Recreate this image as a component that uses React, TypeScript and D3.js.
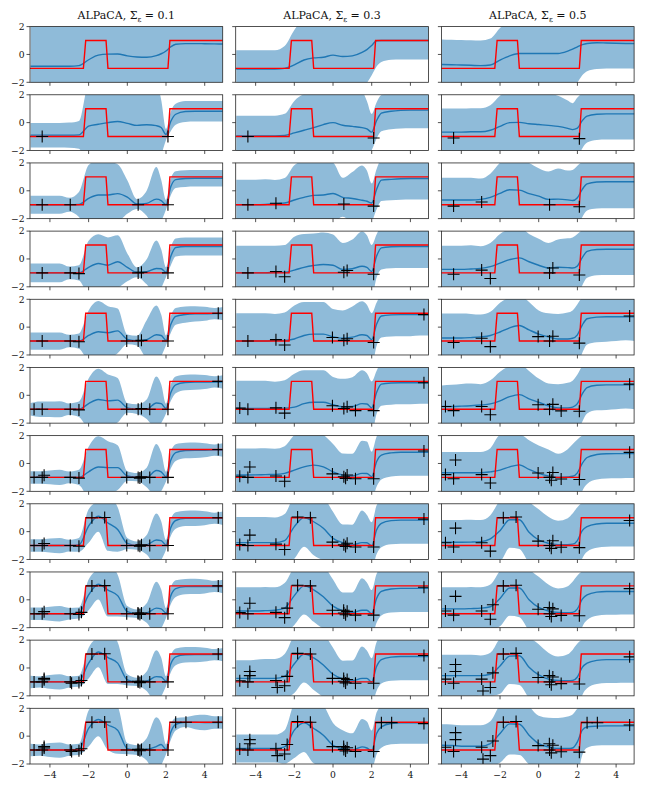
import React, { useRef, useEffect } from 'react';
import * as d3 from 'd3';

const gridX = [-5, -4.5, -4, -3.5, -3, -2.5, -2, -1.5, -1, -0.5, 0, 0.5, 1, 1.5, 1.75, 2, 2.25, 2.5, 3, 3.5, 4, 4.5, 5];

// true step function
const stepX = [-5.05, -2.27, -2.15, -1.1, -1.0, 2.1, 2.2, 5];
const stepY = [-1, -1, 1, 1, -1, -1, 1, 1];

// context points, revealed two per row
const obsX = [-4.4, 2.1, -2.95, 0.56, -2.5, 0.73, -0.03, 4.7, -4.82, 1.16, -4.3, 0.65, -1.83, -1.17, -2.37, 0.55, -4.3, -2.88, 2.5, 3.03];
const obsY01 = [-1.0, -1.0, -1.0, -1.0, -1.05, -0.95, -1.0, 1.0, -1.0, -1.0, -0.85, -1.05, 1.0, 1.02, -0.9, -0.95, -0.75, -1.1, 1.0, 1.0];
const obsY03 = [-1.0, -1.1, -0.9, -0.95, -1.28, -0.83, -0.75, 0.9, -0.92, -1.1, -0.25, -1.07, 1.05, 1.0, -0.6, -0.75, -0.55, -1.4, 0.97, 0.97];
const obsY05 = [-1.1, -1.15, -0.8, -1.0, -1.4, -0.65, -0.68, 0.8, -0.8, -1.12, 0.25, -1.2, 1.0, 1.05, -0.35, -0.55, -0.25, -1.65, 0.96, 0.96];

// Sigma = 0.1
const mean01 = [
  [-0.85, -0.85, -0.85, -0.85, -0.85, -0.8, -0.38, -0.05, 0.02, 0.03, -0.1, -0.18, -0.2, -0.08, 0.05, 0.25, 0.55, 0.73, 0.78, 0.78, 0.77, 0.76, 0.75],
  [-0.9, -0.9, -0.9, -0.9, -0.9, -0.88, -0.25, -0.12, 0.0, 0.08, -0.05, -0.2, -0.15, -0.22, -0.35, -0.85, 0.1, 0.6, 0.8, 0.82, 0.82, 0.82, 0.82],
  [-1, -1, -1, -1, -1, -0.98, -0.55, -0.3, -0.3, -0.2, -0.45, -0.95, -0.9, -0.6, -0.7, -1, 0.3, 0.8, 0.88, 0.9, 0.9, 0.9, 0.9],
  [-1, -1, -1, -1, -1, -1, -0.6, -0.33, -0.45, -0.2, -0.6, -0.96, -0.92, -0.68, -0.7, -0.95, 0.2, 0.82, 0.9, 0.9, 0.9, 0.9, 0.9],
  [-1, -1, -1, -1, -1, -1, -0.6, -0.33, -0.4, -0.27, -0.88, -0.97, -0.9, -0.55, -0.6, -0.95, 0.2, 0.77, 0.9, 0.95, 0.96, 0.97, 0.97],
  [-1, -1, -1, -1, -1, -1, -0.6, -0.3, -0.4, -0.35, -0.9, -1, -1, -0.55, -0.6, -0.95, 0.2, 0.75, 0.92, 0.95, 0.95, 0.96, 0.96],
  [-1, -1, -1, -1, -1, -1, -0.6, -0.25, -0.3, -0.3, -0.9, -0.98, -1, -0.5, -0.6, -0.95, 0.25, 0.78, 0.93, 0.95, 0.95, 0.96, 0.96],
  [-1, -1, -1, -1, -1, -0.95, 0.4, 1.1, 0.62, 0.15, -0.85, -1, -0.95, -0.6, -0.65, -0.95, 0.3, 0.8, 0.95, 0.96, 0.96, 0.96, 0.96],
  [-1, -1, -1, -1, -1, -0.95, 0.35, 1.12, 0.7, 0.3, -0.85, -1, -0.95, -0.6, -0.65, -0.95, 0.3, 0.8, 0.95, 0.96, 0.96, 0.96, 0.96],
  [-1, -1, -1, -1, -1, -0.95, 0.35, 1.15, 0.75, 0.35, -0.85, -1, -0.95, -0.62, -0.65, -0.95, 0.3, 0.8, 0.95, 0.96, 0.96, 0.96, 0.96],
  [-1, -1, -1, -1, -1, -0.95, 0.55, 1.2, 0.8, 0.43, -0.9, -1, -0.95, -0.75, -0.6, -0.95, 0.3, 0.85, 1, 1, 0.98, 0.98, 0.98],
];
const spread01 = [
  [3, 3, 3, 3, 3, 3, 3, 3, 3, 3, 3, 3, 3, 3, 3, 3, 3, 3, 3, 3, 3, 3, 3],
  [0.88, 0.88, 0.88, 0.88, 0.9, 1.0, 3, 3, 3, 3, 3, 3, 3, 3, 2.0, 0.4, 0.7, 0.75, 0.75, 0.74, 0.74, 0.74, 0.74],
  [0.65, 0.65, 0.65, 0.65, 0.5, 0.9, 2.4, 2.5, 2.4, 2.1, 1.2, 0.35, 0.9, 2.3, 1.5, 0.35, 0.6, 0.6, 0.6, 0.6, 0.6, 0.6, 0.6],
  [0.68, 0.68, 0.68, 0.68, 0.45, 0.55, 1.9, 2.1, 2.0, 1.9, 1.0, 0.35, 0.9, 2.0, 1.4, 0.35, 0.65, 0.65, 0.65, 0.65, 0.65, 0.65, 0.65],
  [0.62, 0.62, 0.62, 0.62, 0.45, 0.55, 1.8, 2.2, 1.9, 1.6, 0.35, 0.35, 1.4, 2.1, 1.5, 0.35, 0.6, 0.6, 0.58, 0.55, 0.5, 0.4, 0.5],
  [0.45, 0.55, 0.55, 0.58, 0.42, 0.55, 1.8, 2.2, 1.9, 1.6, 0.35, 0.35, 0.7, 1.9, 1.4, 0.35, 0.6, 0.6, 0.55, 0.55, 0.5, 0.4, 0.5],
  [0.45, 0.45, 0.5, 0.55, 0.42, 0.55, 1.8, 2.2, 1.9, 1.6, 0.35, 0.3, 0.7, 1.9, 1.4, 0.35, 0.6, 0.6, 0.55, 0.55, 0.5, 0.4, 0.5],
  [0.45, 0.45, 0.5, 0.55, 0.42, 0.5, 1.2, 1.1, 2.0, 1.6, 0.4, 0.3, 0.7, 1.9, 1.4, 0.35, 0.6, 0.6, 0.55, 0.55, 0.5, 0.4, 0.5],
  [0.45, 0.45, 0.5, 0.55, 0.42, 0.4, 1.1, 1.1, 1.9, 1.5, 0.4, 0.3, 0.7, 1.9, 1.4, 0.35, 0.6, 0.6, 0.55, 0.55, 0.5, 0.4, 0.5],
  [0.45, 0.4, 0.5, 0.55, 0.4, 0.4, 1.1, 1.1, 1.9, 1.5, 0.4, 0.3, 0.7, 1.9, 1.4, 0.35, 0.6, 0.6, 0.55, 0.55, 0.5, 0.4, 0.5],
  [0.45, 0.4, 0.5, 0.55, 0.4, 0.4, 1.3, 1.2, 1.8, 1.7, 0.4, 0.35, 0.8, 2.1, 1.5, 0.35, 0.55, 0.45, 0.35, 0.5, 0.55, 0.45, 0.45],
];

// Sigma = 0.3
const mean03 = [
  [-1.05, -1.05, -1.05, -1.05, -1.05, -1.0, -0.75, -0.4, -0.25, -0.2, -0.05, -0.15, -0.1, 0.15, 0.35, 0.65, 0.98, 1.0, 1.0, 1.0, 1.0, 1.0, 1.0],
  [-0.96, -0.96, -0.96, -0.95, -0.95, -0.92, -0.74, -0.55, -0.36, -0.14, 0.0, -0.19, -0.27, -0.36, -0.45, -0.68, 0.14, 0.68, 0.82, 0.88, 0.9, 0.9, 0.9],
  [-1, -1, -1, -0.98, -0.92, -0.88, -0.66, -0.47, -0.33, -0.3, -0.19, -0.47, -0.55, -0.68, -0.75, -0.88, 0.1, 0.77, 0.82, 0.86, 0.88, 0.88, 0.88],
  [-1, -1, -1, -1, -0.95, -0.95, -0.8, -0.6, -0.47, -0.4, -0.45, -0.75, -0.7, -0.52, -0.6, -0.9, 0.2, 0.8, 0.88, 0.9, 0.9, 0.9, 0.9],
  [-1, -1, -1, -1, -0.95, -0.95, -0.85, -0.6, -0.5, -0.5, -0.7, -0.8, -0.72, -0.55, -0.6, -0.9, 0.2, 0.8, 0.88, 0.9, 0.9, 0.9, 0.9],
  [-0.95, -0.95, -0.95, -0.95, -0.92, -0.92, -0.85, -0.6, -0.5, -0.5, -0.68, -0.82, -0.8, -0.6, -0.62, -0.9, 0.2, 0.8, 0.88, 0.9, 0.9, 0.9, 0.9],
  [-0.83, -0.83, -0.82, -0.8, -0.79, -0.71, -0.48, -0.24, -0.12, -0.24, -0.6, -0.83, -0.9, -0.71, -0.72, -0.95, 0.12, 0.6, 0.76, 0.81, 0.81, 0.81, 0.81],
  [-0.79, -0.79, -0.79, -0.79, -0.79, -0.64, 0.36, 1.02, 0.71, 0.24, -0.48, -0.79, -0.95, -0.79, -0.8, -1.02, 0.12, 0.6, 0.79, 0.83, 0.83, 0.83, 0.83],
  [-0.8, -0.8, -0.8, -0.78, -0.75, -0.6, 0.3, 1.0, 0.72, 0.22, -0.45, -0.78, -0.92, -0.75, -0.75, -1.0, 0.1, 0.6, 0.78, 0.82, 0.82, 0.82, 0.82],
  [-0.75, -0.75, -0.75, -0.75, -0.75, -0.6, 0.3, 1.0, 0.72, 0.22, -0.45, -0.78, -0.92, -0.75, -0.75, -1.0, 0.1, 0.6, 0.78, 0.82, 0.82, 0.82, 0.82],
  [-0.89, -0.89, -0.89, -0.89, -0.89, -0.77, 0.43, 0.96, 0.55, 0.07, -0.65, -0.89, -1.0, -0.77, -0.85, -1.05, 0.19, 0.67, 0.91, 0.96, 0.96, 0.96, 0.96],
];
const spread03 = [
  [1.35, 1.35, 1.35, 1.35, 1.35, 1.6, 2.5, 3, 3, 3, 3, 3, 3, 2.6, 2.4, 2.15, 1.85, 1.55, 1.38, 1.36, 1.36, 1.36, 1.36],
  [1.45, 1.45, 1.45, 1.45, 1.45, 1.55, 2.3, 2.6, 2.6, 2.6, 2.6, 2.6, 2.6, 2.6, 2.0, 1.3, 1.3, 1.3, 1.3, 1.3, 1.3, 1.3, 1.3],
  [1.8, 1.8, 1.8, 1.8, 1.7, 1.8, 2.5, 2.6, 2.5, 2.4, 2.2, 1.4, 1.9, 2.5, 2.2, 1.4, 1.45, 1.5, 1.5, 1.5, 1.5, 1.5, 1.5],
  [1.95, 1.95, 1.95, 1.95, 1.9, 1.95, 2.4, 2.4, 2.3, 2.3, 2.2, 1.9, 2.1, 2.5, 2.3, 1.9, 1.55, 1.55, 1.55, 1.55, 1.55, 1.55, 1.55],
  [2.0, 2.0, 2.0, 2.0, 1.9, 2.0, 2.4, 2.4, 2.3, 2.3, 2.0, 2.0, 2.2, 2.4, 2.2, 1.9, 1.55, 1.55, 1.55, 1.55, 1.55, 1.5, 1.5],
  [2.0, 2.0, 2.0, 2.0, 1.9, 2.0, 2.4, 2.4, 2.3, 2.3, 2.0, 2.0, 2.1, 2.4, 2.2, 1.9, 1.55, 1.55, 1.55, 1.55, 1.55, 1.5, 1.5],
  [1.9, 1.9, 1.9, 1.9, 1.85, 1.95, 2.5, 2.5, 2.5, 2.3, 2.0, 1.55, 1.6, 2.35, 2.3, 1.8, 1.8, 1.75, 1.7, 1.7, 1.7, 1.7, 1.7],
  [1.85, 1.85, 1.85, 1.85, 1.8, 1.9, 2.3, 2.1, 2.4, 2.3, 1.9, 1.3, 1.45, 2.3, 2.0, 1.7, 1.75, 1.72, 1.7, 1.7, 1.7, 1.7, 1.7],
  [1.7, 1.7, 1.7, 1.7, 1.65, 1.8, 2.1, 2.05, 2.3, 2.3, 1.9, 1.3, 1.45, 2.3, 2.0, 1.7, 1.75, 1.72, 1.7, 1.7, 1.7, 1.7, 1.7],
  [1.3, 1.3, 1.35, 1.4, 1.4, 1.6, 2.1, 2.05, 2.3, 2.3, 1.9, 1.3, 1.45, 2.3, 2.0, 1.7, 1.75, 1.72, 1.7, 1.7, 1.7, 1.7, 1.7],
  [1.0, 1.0, 1.0, 1.0, 1.0, 1.2, 2.0, 2.1, 2.5, 2.2, 1.6, 1.32, 1.2, 2.0, 1.9, 1.45, 1.5, 1.5, 1.5, 1.5, 1.5, 1.5, 1.5],
];

// Sigma = 0.5
const mean05 = [
  [-0.72, -0.74, -0.76, -0.78, -0.8, -0.76, -0.4, -0.1, 0.07, 0.07, 0.07, 0.07, 0.07, 0.24, 0.38, 0.55, 0.7, 0.79, 0.84, 0.82, 0.8, 0.79, 0.78],
  [-0.68, -0.68, -0.68, -0.66, -0.66, -0.55, -0.27, 0.0, 0.02, -0.08, -0.14, -0.2, -0.27, -0.41, -0.5, -0.4, 0.14, 0.47, 0.6, 0.63, 0.63, 0.63, 0.63],
  [-0.66, -0.66, -0.66, -0.66, -0.62, -0.47, -0.19, 0.08, 0.05, -0.2, -0.38, -0.62, -0.6, -0.65, -0.7, -0.5, 0.1, 0.49, 0.63, 0.65, 0.65, 0.65, 0.65],
  [-0.75, -0.75, -0.75, -0.72, -0.68, -0.55, -0.3, -0.05, 0.08, -0.2, -0.45, -0.65, -0.6, -0.62, -0.65, -0.5, 0.1, 0.55, 0.68, 0.7, 0.7, 0.7, 0.7],
  [-0.78, -0.78, -0.78, -0.75, -0.7, -0.6, -0.35, -0.05, 0.12, -0.2, -0.5, -0.7, -0.85, -0.85, -0.8, -0.55, 0.15, 0.6, 0.72, 0.75, 0.75, 0.75, 0.75],
  [-0.8, -0.8, -0.78, -0.75, -0.7, -0.62, -0.4, -0.1, 0.05, -0.25, -0.5, -0.75, -0.9, -0.9, -0.85, -0.6, 0.1, 0.55, 0.72, 0.75, 0.75, 0.75, 0.75],
  [-0.67, -0.67, -0.67, -0.67, -0.67, -0.6, -0.48, -0.24, -0.1, -0.43, -0.71, -0.9, -1.0, -0.97, -0.92, -0.67, 0.0, 0.43, 0.64, 0.7, 0.71, 0.71, 0.71],
  [-0.76, -0.76, -0.76, -0.75, -0.72, -0.52, 0.07, 0.85, 0.85, -0.05, -0.6, -0.83, -0.93, -0.93, -0.9, -0.64, 0.07, 0.36, 0.55, 0.6, 0.6, 0.6, 0.6],
  [-0.65, -0.65, -0.65, -0.63, -0.6, -0.5, 0.1, 0.85, 0.85, 0.0, -0.55, -0.8, -0.9, -0.92, -0.9, -0.65, 0.05, 0.35, 0.55, 0.6, 0.6, 0.6, 0.6],
  [-0.55, -0.55, -0.55, -0.55, -0.55, -0.45, 0.15, 0.85, 0.88, 0.05, -0.5, -0.8, -0.9, -0.92, -0.9, -0.65, 0.05, 0.35, 0.55, 0.6, 0.6, 0.6, 0.6],
  [-0.65, -0.67, -0.72, -0.72, -0.72, -0.53, 0.19, 0.88, 0.85, 0.07, -0.53, -0.77, -0.89, -0.89, -0.85, -0.41, 0.43, 0.67, 0.72, 0.74, 0.74, 0.74, 0.74],
];
const spread05 = [
  [1.8, 1.8, 1.8, 1.8, 1.8, 1.9, 2.3, 2.6, 2.6, 2.6, 2.6, 2.6, 2.6, 2.6, 2.6, 2.55, 2.2, 2.0, 1.88, 1.83, 1.8, 1.8, 1.8],
  [1.7, 1.7, 1.7, 1.7, 1.7, 1.8, 2.2, 2.3, 2.3, 2.3, 2.3, 2.3, 2.2, 2.0, 1.9, 2.2, 2.0, 1.9, 1.85, 1.85, 1.85, 1.85, 1.85],
  [1.6, 1.6, 1.6, 1.6, 1.5, 1.7, 2.2, 2.3, 2.3, 2.2, 2.0, 2.0, 2.2, 2.1, 2.2, 2.3, 2.0, 1.9, 1.9, 1.9, 1.9, 1.9, 1.9],
  [1.7, 1.7, 1.7, 1.7, 1.6, 1.7, 2.1, 2.2, 2.2, 2.0, 1.9, 1.8, 2.0, 2.1, 2.2, 2.3, 2.0, 1.9, 1.85, 1.85, 1.85, 1.85, 1.85],
  [1.75, 1.75, 1.75, 1.7, 1.6, 1.7, 2.1, 2.2, 2.2, 2.0, 1.7, 1.7, 1.8, 1.9, 2.0, 2.2, 2.0, 1.85, 1.8, 1.8, 1.75, 1.7, 1.75],
  [1.5, 1.55, 1.6, 1.6, 1.5, 1.7, 2.1, 2.2, 2.2, 2.0, 1.7, 1.6, 1.7, 1.8, 1.9, 2.1, 2.0, 1.85, 1.8, 1.8, 1.75, 1.7, 1.75],
  [1.5, 1.5, 1.5, 1.5, 1.5, 1.7, 2.5, 2.3, 2.2, 2.1, 2.0, 1.9, 1.7, 2.0, 2.3, 2.4, 2.0, 1.9, 1.8, 1.78, 1.78, 1.75, 1.75],
  [1.6, 1.6, 1.6, 1.6, 1.55, 1.7, 2.2, 2.0, 2.1, 2.2, 2.2, 1.9, 1.72, 1.9, 2.2, 2.4, 2.0, 1.8, 1.7, 1.68, 1.67, 1.66, 1.66],
  [1.55, 1.55, 1.55, 1.55, 1.5, 1.6, 2.0, 2.0, 2.1, 2.2, 2.2, 1.9, 1.72, 1.9, 2.2, 2.4, 2.0, 1.8, 1.7, 1.68, 1.67, 1.66, 1.66],
  [1.5, 1.5, 1.5, 1.5, 1.45, 1.55, 2.0, 2.0, 2.1, 2.2, 2.2, 1.9, 1.72, 1.9, 2.2, 2.4, 2.0, 1.8, 1.7, 1.68, 1.67, 1.66, 1.66],
  [1.5, 1.5, 1.5, 1.5, 1.5, 1.6, 2.1, 2.2, 2.2, 2.1, 2.0, 2.1, 2.2, 2.3, 2.4, 2.4, 1.8, 1.5, 1.4, 1.4, 1.4, 1.4, 1.4],
];

const sigmaLabels = ['0.1', '0.3', '0.5'];
const xTicks = [-4, -2, 0, 2, 4];
const yTicks = [-2, 0, 2];

const columns = [
  { mean: mean01, spread: spread01, obsY: obsY01 },
  { mean: mean03, spread: spread03, obsY: obsY03 },
  { mean: mean05, spread: spread05, obsY: obsY05 },
];

// layout
const colLeft = [30, 235.7, 441.4];
const panelW = 192.7;
const panelH = 55.7;
const rowTop0 = 26.6;
const rowStep = 68.17;
const serif = '"DejaVu Serif", "Liberation Serif", serif';

const fmt = (v: number) => (v < 0 ? '\u2212' + Math.abs(v) : String(v));

const App: React.FC = () => {
  const svgRef = useRef<SVGSVGElement | null>(null);

  useEffect(() => {
    const svg = d3.select(svgRef.current);
    svg.selectAll('*').remove();

    const x = d3.scaleLinear().domain([-5.03, 4.93]).range([0, panelW]);
    const y = d3.scaleLinear().domain([-2, 2]).range([panelH, 0]);

    type P = { x: number; m: number; s: number };
    const band = d3.area<P>()
      .x(d => x(d.x))
      .y0(d => y(d.m - d.s))
      .y1(d => y(d.m + d.s))
      .curve(d3.curveMonotoneX);
    const meanLine = d3.line<P>()
      .x(d => x(d.x))
      .y(d => y(d.m))
      .curve(d3.curveMonotoneX);
    const stepLine = d3.line<number>()
      .x(d => x(d))
      .y((_, i) => y(stepY[i]));

    columns.forEach((col, c) => {
      // column title
      const title = svg.append('text')
        .attr('x', colLeft[c] + panelW / 2)
        .attr('y', 19.3)
        .attr('text-anchor', 'middle')
        .attr('font-family', serif)
        .attr('font-size', 11)
        .attr('fill', '#111');
      title.append('tspan').text('ALPaCA, \u03A3');
      title.append('tspan').attr('font-size', 7.5).attr('dy', 2.5).text('\u03B5');
      title.append('tspan').attr('dy', -2.5).text(' = ' + sigmaLabels[c]);

      for (let r = 0; r < col.mean.length; r++) {
        const g = svg.append('g')
          .attr('transform', `translate(${colLeft[c]},${rowTop0 + r * rowStep})`);

        const clipId = `clip-${c}-${r}`;
        g.append('clipPath').attr('id', clipId)
          .append('rect').attr('width', panelW).attr('height', panelH);

        const plot = g.append('g').attr('clip-path', `url(#${clipId})`);
        const pts: P[] = gridX.map((gx, i) => ({ x: gx, m: col.mean[r][i], s: col.spread[r][i] }));

        plot.append('path').datum(pts)
          .attr('d', band)
          .attr('fill', '#8fbbd9');

        plot.append('path').datum(pts)
          .attr('d', meanLine)
          .attr('fill', 'none')
          .attr('stroke', '#1f77b4')
          .attr('stroke-width', 1.4);

        plot.append('path').datum(stepX)
          .attr('d', stepLine)
          .attr('fill', 'none')
          .attr('stroke', '#ff0000')
          .attr('stroke-width', 1.4);

        // context points as "+" markers
        const n = 2 * r;
        plot.selectAll('.obs')
          .data(obsX.slice(0, n).map((ox, i) => [ox, col.obsY[i]]))
          .enter()
          .append('path')
          .attr('class', 'obs')
          .attr('d', d => {
            const px = x(d[0]), py = y(d[1]);
            return `M${px - 6},${py}H${px + 6}M${px},${py - 6}V${py + 6}`;
          })
          .attr('stroke', '#000')
          .attr('stroke-width', 1.1)
          .attr('fill', 'none');

        // frame
        g.append('rect')
          .attr('width', panelW).attr('height', panelH)
          .attr('fill', 'none').attr('stroke', '#262626').attr('stroke-width', 0.8);

        // x ticks
        g.selectAll('.xt').data(xTicks).enter().append('line')
          .attr('x1', d => x(d)).attr('x2', d => x(d))
          .attr('y1', panelH).attr('y2', panelH + 3.5)
          .attr('stroke', '#262626').attr('stroke-width', 0.8);

        // y ticks
        g.selectAll('.yt').data(yTicks).enter().append('line')
          .attr('x1', -3.5).attr('x2', 0)
          .attr('y1', d => y(d)).attr('y2', d => y(d))
          .attr('stroke', '#262626').attr('stroke-width', 0.8);

        if (c === 0) {
          g.selectAll('.yl').data(yTicks).enter().append('text')
            .attr('x', -5.5).attr('y', d => y(d))
            .attr('dy', '0.35em')
            .attr('text-anchor', 'end')
            .attr('font-family', serif).attr('font-size', 9.2).attr('fill', '#111')
            .text(d => fmt(d));
        }
        if (r === col.mean.length - 1) {
          g.selectAll('.xl').data(xTicks).enter().append('text')
            .attr('x', d => x(d)).attr('y', panelH + 14.5)
            .attr('text-anchor', 'middle')
            .attr('font-family', serif).attr('font-size', 9.2).attr('fill', '#111')
            .text(d => fmt(d));
        }
      }
    });
  }, []);

  return (
    <svg ref={svgRef} width={648} height={792}
      style={{ position: 'absolute', left: 0, top: 0, background: '#fff' }} />
  );
};

export default App;
